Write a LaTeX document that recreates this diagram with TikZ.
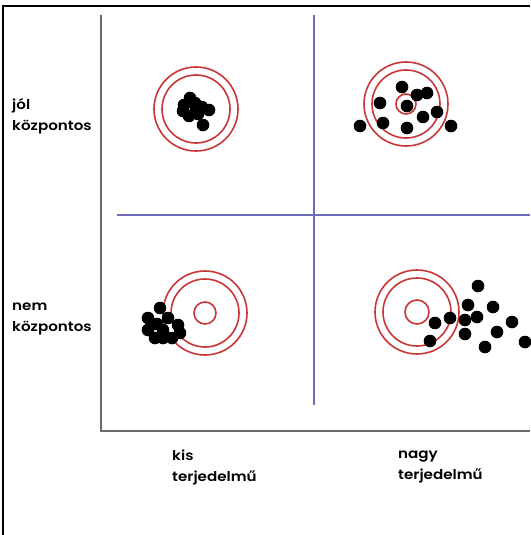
\documentclass[tikz,border=0pt]{standalone}
\usepackage{fontspec}
\setmainfont{Poppins}[UprightFont=* SemiBold]
\definecolor{ringred}{RGB}{200,55,55}
\definecolor{gridblue}{RGB}{110,110,185}
\definecolor{axisgray}{RGB}{105,105,105}
\begin{document}
\begin{tikzpicture}[x=1pt,y=-1pt,
  ring/.style={draw=ringred,line width=1.6pt},
  dot/.style={fill=black},
  gridline/.style={draw=gridblue,line width=1.1pt},
  axisline/.style={draw=axisgray,line width=2.2pt},
  lbl/.style={anchor=west,inner sep=0pt,font=\fontsize{13.5}{21}\selectfont,align=left,xscale=1.12}]
\useasboundingbox (0,0) rectangle (530,535);
\fill[white] (0,0) rectangle (530,535);
% frame (top and left)
\coordinate (fb) at (3,535); \coordinate (fc) at (3,6); \coordinate (fr) at (530,6);
\draw[black,line width=1.6pt] (fb) -- (fc) -- (fr);
% grid lines
\coordinate (vt) at (314,15); \coordinate (vb) at (314,405);
\coordinate (hl) at (117,215); \coordinate (hr) at (530,215);
\draw[gridline] (vt) -- (vb);
\draw[gridline] (hl) -- (hr);
% axes
\coordinate (at) at (101,15); \coordinate (ao) at (101,431); \coordinate (ar) at (530,431);
\draw[axisline] (at) -- (ao) -- (ar);
% targets
\foreach \cx/\cy/\ri in {196/109/8, 406/104/10, 205/313/11, 417/312/12}{
  \draw[ring] (\cx,\cy) circle (42);
  \draw[ring] (\cx,\cy) circle (34);
  \draw[ring] (\cx,\cy) circle (\ri);
}
% dots top-left
\foreach \x/\y in {190/98, 184/105, 183/111, 189/116, 195/103, 196/109, 202/107, 209/110, 203/125, 198/114}
  \fill[dot] (\x,\y) circle (6.3);
% dots top-right
\foreach \x/\y in {402/87, 380/103, 417/95, 427/93, 407/106, 437/112, 423/117, 383/123, 407/128, 360/126, 451/126}
  \fill[dot] (\x,\y) circle (6.3);
% dots bottom-left
\foreach \x/\y in {160/308, 148/318, 168/318, 157/324, 178/325, 148/330, 155/338, 163/338, 172/338, 180/333, 163/330}
  \fill[dot] (\x,\y) circle (6.3);
% dots bottom-right
\foreach \x/\y in {478/286, 468/305, 493/307, 450/318, 465/320, 477/317, 435/323, 512/322, 465/334, 497/332, 430/341, 485/347, 525/342}
  \fill[dot] (\x,\y) circle (6.3);
% labels
\node[lbl] (l1) at (12,116) {jól\\központos};
\node[lbl] (l2) at (12,319) {nem\\központos};
\node[lbl] (l3) at (172,467) {kis\\terjedelmű};
\node[lbl] (l4) at (398,467) {nagy\\terjedelmű};
\end{tikzpicture}
\end{document}
